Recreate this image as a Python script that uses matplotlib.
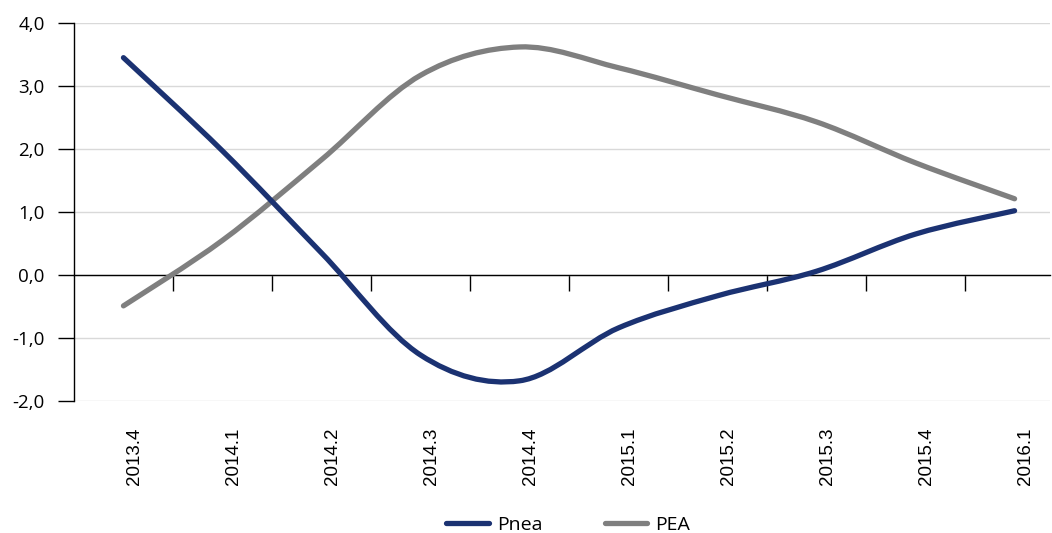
import matplotlib
matplotlib.use("Agg")
import matplotlib.pyplot as plt
import matplotlib.transforms as mtransforms
from matplotlib.path import Path
from matplotlib.patches import PathPatch
from matplotlib.lines import Line2D

quarters = ["2013.4", "2014.1", "2014.2", "2014.3", "2014.4",
            "2015.1", "2015.2", "2015.3", "2015.4", "2016.1"]
pnea = [3.45, 1.97, 0.35, -1.27, -1.68, -0.84, -0.33, 0.06, 0.65, 1.02]
pea = [-0.49, 0.55, 1.83, 3.17, 3.62, 3.29, 2.86, 2.43, 1.78, 1.21]

navy = "#1b3272"
grey = "#7f7f7f"


def smooth_path(xs, ys):
    # courbe lissee type Excel (Catmull-Rom -> Bezier)
    pts = list(zip(xs, ys))
    verts = [pts[0]]
    codes = [Path.MOVETO]
    n = len(pts)
    for i in range(n - 1):
        p0 = pts[i - 1] if i > 0 else pts[i]
        p1 = pts[i]
        p2 = pts[i + 1]
        p3 = pts[i + 2] if i + 2 < n else pts[i + 1]
        c1 = (p1[0] + (p2[0] - p0[0]) / 6, p1[1] + (p2[1] - p0[1]) / 6)
        c2 = (p2[0] - (p3[0] - p1[0]) / 6, p2[1] - (p3[1] - p1[1]) / 6)
        verts += [c1, c2, p2]
        codes += [Path.CURVE4] * 3
    return Path(verts, codes)


fig = plt.figure(figsize=(10.52, 5.33), dpi=100)
ax = fig.add_axes([0.0703, 0.2477, 0.928, 0.7091])

x = list(range(len(quarters)))
for ys, col in [(pea, grey), (pnea, navy)]:
    ax.add_patch(PathPatch(smooth_path(x, ys), fill=False, edgecolor=col,
                           lw=3.8, capstyle="round", joinstyle="round", zorder=3))

ax.set_xlim(-0.5, 9.36)
ax.set_ylim(-2, 4)
ax.set_yticks([-2, -1, 0, 1, 2, 3, 4])
ax.set_yticklabels(["-2,0", "-1,0", "0,0", "1,0", "2,0", "3,0", "4,0"],
                   fontsize=13.5, family="Open Sans", fontweight="medium")
ax.yaxis.grid(True, color="#d9d9d9", lw=1)
ax.set_axisbelow(True)
ax.tick_params(axis="y", length=11.5, width=1, pad=9.5)

ax.spines["top"].set_visible(False)
ax.spines["right"].set_visible(False)
ax.spines["bottom"].set_position(("data", 0))
ax.spines["left"].set_linewidth(1)
ax.spines["bottom"].set_linewidth(1)

ax.set_xticks(x)
ax.set_xticklabels(quarters, rotation=90, fontsize=13.5, family="Liberation Sans")
ax.tick_params(axis="x", which="major", length=0, pad=110)
shift = mtransforms.ScaledTranslation(11 / 100, 0, fig.dpi_scale_trans)
for lab in ax.get_xticklabels():
    lab.set_transform(lab.get_transform() + shift)
ax.set_xticks([i + 0.5 for i in range(len(quarters) - 1)], minor=True)
ax.tick_params(axis="x", which="minor", length=11.5, width=1, direction="out")

handles = [Line2D([], [], color=navy, lw=3.8, solid_capstyle="round"),
           Line2D([], [], color=grey, lw=3.8, solid_capstyle="round")]
fig.legend(handles, ["Pnea", "PEA"], loc="lower center", ncol=2, frameon=False,
           bbox_to_anchor=(0.54, -0.034), prop={"family": "Open Sans", "size": 14},
           handlelength=2.2, handletextpad=0.4, columnspacing=3.2)

fig.savefig("out.png", dpi=100)
